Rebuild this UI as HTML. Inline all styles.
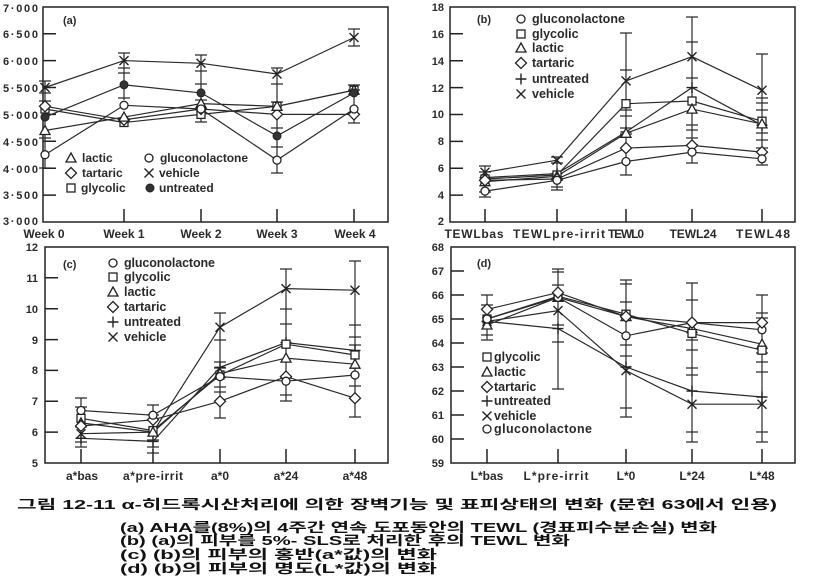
<!DOCTYPE html>
<html><head><meta charset="utf-8"><style>
html,body{margin:0;padding:0;background:#fff;}
svg{display:block;}
.ax{font-family:"Liberation Sans",Arial,sans-serif;font-weight:bold;fill:#2a2a2a;}
.cap{font-family:"Liberation Sans","Noto Sans CJK KR","NanumGothic",sans-serif;font-weight:bold;fill:#111;font-size:13px;}
</style></head><body>
<svg width="814" height="584" viewBox="0 0 814 584" xmlns="http://www.w3.org/2000/svg">
<defs>
<g id="ci"><circle r="4" fill="#fff" stroke="#222" stroke-width="1.3"/></g>
<g id="sq"><rect x="-4" y="-4" width="8" height="8" fill="#fff" stroke="#222" stroke-width="1.3"/></g>
<g id="tr"><path d="M0,-5 L5,4 L-5,4Z" fill="#fff" stroke="#222" stroke-width="1.3"/></g>
<g id="di"><path d="M0,-5.5 L5.5,0 L0,5.5 L-5.5,0Z" fill="#fff" stroke="#222" stroke-width="1.3"/></g>
<g id="pl"><path d="M-5.5,0H5.5M0,-5.5V5.5" fill="none" stroke="#222" stroke-width="1.4"/></g>
<g id="cr"><path d="M-4.5,-4.5L4.5,4.5M-4.5,4.5L4.5,-4.5" fill="none" stroke="#222" stroke-width="1.4"/></g>
<g id="dt"><circle r="4" fill="#333" stroke="#222" stroke-width="1"/></g>
</defs>
<rect width="814" height="584" fill="#fff"/>

<!-- ============ PANEL A ============ -->
<g fill="none" stroke="#222" stroke-width="1.5">
<rect x="43" y="7" width="345" height="215"/>
<path d="M43,33.7H56M43,60.6H56M43,87.5H56M43,114.4H56M43,141.3H56M43,168.2H56M43,195.1H56M124,209V222M201,209V222M277,209V222M354,209V222"/>
</g>
<g fill="none" stroke="#2a2a2a" stroke-width="1.2">
<polyline points="45,87.5 124,60.6 201,63.3 277,74 354,37.5"/>
<polyline points="45,117.1 124,84.8 201,92.9 277,135.9 354,92.9"/>
<polyline points="45,154.7 124,105.3 201,109 277,160.1 354,109"/>
<polyline points="45,130.5 124,117.1 201,103.6 277,106.3 354,90.2"/>
<polyline points="45,106.3 124,119.8 201,109 277,114.4 354,114.4"/>
<polyline points="45,109 124,122.5 201,114.4 277,106.3 354,90.2"/>
<path d="M45,81V168M39,81H51M39,93H51M39,101H51M39,138H51M39,168H51
M124,53V100M118,53H130M118,68H130M118,73H130M118,98H130
M201,55V122M195,55H207M195,71H207M195,84H207M195,100H207M195,122H207
M277,68V173M271,68H283M271,84H283M271,102H283M271,128H283M271,147H283M271,173H283
M354,29V46M354,85V123M348,29H360M348,46H360M348,85H360M348,90H360M348,123H360"/>
</g>
<use href="#cr" x="45" y="87.5"/><use href="#cr" x="124" y="60.6"/><use href="#cr" x="201" y="63.3"/><use href="#cr" x="277" y="74"/><use href="#cr" x="354" y="37.5"/>
<use href="#sq" x="45" y="109"/><use href="#sq" x="124" y="122.5"/><use href="#sq" x="201" y="114.4"/><use href="#sq" x="277" y="106.3"/><use href="#sq" x="354" y="90.2"/>
<use href="#di" x="45" y="106.3"/><use href="#di" x="124" y="119.8"/><use href="#di" x="201" y="109"/><use href="#di" x="277" y="114.4"/><use href="#di" x="354" y="114.4"/>
<use href="#tr" x="45" y="130.5"/><use href="#tr" x="124" y="117.1"/><use href="#tr" x="201" y="103.6"/><use href="#tr" x="277" y="106.3"/><use href="#tr" x="354" y="90.2"/>
<use href="#ci" x="45" y="154.7"/><use href="#ci" x="124" y="105.3"/><use href="#ci" x="201" y="109"/><use href="#ci" x="277" y="160.1"/><use href="#ci" x="354" y="109"/>
<use href="#dt" x="45" y="117.1"/><use href="#dt" x="124" y="84.8"/><use href="#dt" x="201" y="92.9"/><use href="#dt" x="277" y="135.9"/><use href="#dt" x="354" y="92.9"/>
<g class="ax" font-size="11" text-anchor="end">
<text x="38" y="12" textLength="35">7·000</text>
<text x="38" y="38" textLength="35">6·500</text>
<text x="38" y="65" textLength="35">6·000</text>
<text x="38" y="92" textLength="35">5·500</text>
<text x="38" y="119" textLength="35">5·000</text>
<text x="38" y="146" textLength="35">4·500</text>
<text x="38" y="173" textLength="35">4·000</text>
<text x="38" y="199" textLength="35">3·500</text>
<text x="38" y="225" textLength="35">3·000</text>
</g>
<g class="ax" font-size="12" text-anchor="middle">
<text x="44" y="238">Week 0</text>
<text x="124" y="238">Week 1</text>
<text x="201" y="238">Week 2</text>
<text x="277" y="238">Week 3</text>
<text x="355" y="238">Week 4</text>
</g>
<text class="ax" font-size="11" x="63" y="24">(a)</text>
<use href="#tr" x="71" y="158"/><use href="#di" x="71" y="173"/><use href="#sq" x="71" y="188"/>
<use href="#ci" x="149" y="158"/><use href="#cr" x="149" y="173"/><use href="#dt" x="150" y="188"/>
<g class="ax" font-size="12">
<text x="82" y="162">lactic</text>
<text x="82" y="177">tartaric</text>
<text x="81" y="192">glycolic</text>
<text x="160" y="162" textLength="88">gluconolactone</text>
<text x="159" y="177">vehicle</text>
<text x="159" y="192">untreated</text>
</g>

<!-- ============ PANEL B ============ -->
<g fill="none" stroke="#222" stroke-width="1.5">
<rect x="450" y="7" width="345" height="215"/>
<path d="M450,33.8H463M450,60.7H463M450,87.6H463M450,114.5H463M450,141.4H463M450,168.2H463M450,195.1H463M485,209V222M557,209V222M626,209V222M692,209V222M762,209V222"/>
</g>
<g fill="none" stroke="#2a2a2a" stroke-width="1.2">
<polyline points="485,172.3 557,160.2 626,80.9 692,56.7 762,90.3"/>
<polyline points="485,177.6 557,173.6 626,132 692,87.6 762,125.2"/>
<polyline points="485,179 557,175 626,103.7 692,101 762,121.2"/>
<polyline points="485,181.7 557,176.3 626,133.3 692,109.1 762,123.9"/>
<polyline points="485,180.3 557,179 626,148.1 692,145.4 762,152.1"/>
<polyline points="485,191.1 557,180.3 626,161.5 692,152.1 762,158.8"/>
<path d="M485,166V197M479,166H491M479,172H491M479,192H491M479,197H491
M557,157V190M551,157H563M551,163H563M551,187H563M551,190H563
M626,33V175M620,33H632M620,70H632M620,110H632M620,116H632M620,128H632M620,134H632M620,175H632
M692,17V163M686,17H698M686,42H698M686,78H698M686,125H698M686,130H698M686,138H698M686,145H698M686,163H698
M762,54V165M756,54H768M756,98H768M756,103H768M756,110H768M756,133H768M756,140H768M756,148H768M756,165H768"/>
</g>
<use href="#pl" x="485" y="177.6"/><use href="#pl" x="557" y="173.6"/><use href="#pl" x="626" y="132"/><use href="#pl" x="692" y="87.6"/><use href="#pl" x="762" y="125.2"/>
<use href="#cr" x="485" y="172.3"/><use href="#cr" x="557" y="160.2"/><use href="#cr" x="626" y="80.9"/><use href="#cr" x="692" y="56.7"/><use href="#cr" x="762" y="90.3"/>
<use href="#sq" x="485" y="179"/><use href="#sq" x="557" y="175"/><use href="#sq" x="626" y="103.7"/><use href="#sq" x="692" y="101"/><use href="#sq" x="762" y="121.2"/>
<use href="#tr" x="485" y="181.7"/><use href="#tr" x="557" y="176.3"/><use href="#tr" x="626" y="133.3"/><use href="#tr" x="692" y="109.1"/><use href="#tr" x="762" y="123.9"/>
<use href="#di" x="485" y="180.3"/><use href="#di" x="557" y="179"/><use href="#di" x="626" y="148.1"/><use href="#di" x="692" y="145.4"/><use href="#di" x="762" y="152.1"/>
<use href="#ci" x="485" y="191.1"/><use href="#ci" x="557" y="180.3"/><use href="#ci" x="626" y="161.5"/><use href="#ci" x="692" y="152.1"/><use href="#ci" x="762" y="158.8"/>
<g class="ax" font-size="11" text-anchor="end">
<text x="444" y="11">18</text>
<text x="444" y="38">16</text>
<text x="444" y="65">14</text>
<text x="444" y="92">12</text>
<text x="444" y="118">10</text>
<text x="444" y="145">8</text>
<text x="444" y="172">6</text>
<text x="444" y="199">4</text>
<text x="444" y="225">2</text>
</g>
<g class="ax" font-size="12" text-anchor="middle">
<text x="474" y="238" textLength="59">TEWLbas</text>
<text x="559" y="238" textLength="92">TEWLpre-irrit</text>
<text x="626" y="238" textLength="36">TEWL0</text>
<text x="693" y="238" textLength="47">TEWL24</text>
<text x="763" y="238" textLength="54">TEWL48</text>
</g>
<text class="ax" font-size="11" x="477" y="23">(b)</text>
<use href="#ci" x="521" y="19"/><use href="#sq" x="521" y="34"/><use href="#tr" x="521" y="48"/><use href="#di" x="521" y="63"/><use href="#pl" x="521" y="79"/><use href="#cr" x="521" y="94"/>
<g class="ax" font-size="12.5">
<text x="532" y="23" textLength="93">gluconolactone</text>
<text x="532" y="38">glycolic</text>
<text x="532" y="52">lactic</text>
<text x="532" y="67">tartaric</text>
<text x="532" y="83">untreated</text>
<text x="532" y="98">vehicle</text>
</g>

<!-- ============ PANEL C ============ -->
<g fill="none" stroke="#222" stroke-width="1.5">
<rect x="45" y="247" width="343" height="216"/>
<path d="M45,277.8H58M45,308.7H58M45,339.6H58M45,370.4H58M45,401.3H58M45,432.1H58M81,449V463M153,449V463M220,449V463M286,449V463M355,449V463"/>
</g>
<g fill="none" stroke="#2a2a2a" stroke-width="1.2">
<polyline points="81,433.7 153,432.1 220,327.2 286,288.6 355,290.2"/>
<polyline points="81,410.5 153,415.2 220,376.6 286,381.2 355,375"/>
<polyline points="81,418.3 153,430.6 220,375 286,344.2 355,355"/>
<polyline points="81,422.9 153,432.1 220,373.5 286,358.1 355,364.2"/>
<polyline points="81,426 153,419.8 220,401.3 286,376.6 355,398.2"/>
<polyline points="81,438.3 153,441.4 220,367.3 286,342.6 355,350.4"/>
<path d="M81,398V447M75,398H87M75,407H87M75,442H87M75,447H87
M153,405V453M147,405H159M147,415H159M147,440H159M147,447H159M147,453H159
M220,313V418M214,313H226M214,340H226M214,362H226M214,368H226M214,387H226M214,392H226M214,418H226
M286,269V401M280,269H292M280,309H292M280,324H292M280,377H292M280,395H292M280,401H292
M355,261V417M349,261H361M349,325H361M349,337H361M349,345H361M349,386H361M349,417H361"/>
</g>
<use href="#pl" x="81" y="438.3"/><use href="#pl" x="153" y="441.4"/><use href="#pl" x="220" y="367.3"/><use href="#pl" x="286" y="342.6"/><use href="#pl" x="355" y="350.4"/>
<use href="#cr" x="81" y="433.7"/><use href="#cr" x="153" y="432.1"/><use href="#cr" x="220" y="327.2"/><use href="#cr" x="286" y="288.6"/><use href="#cr" x="355" y="290.2"/>
<use href="#sq" x="81" y="418.3"/><use href="#sq" x="153" y="430.6"/><use href="#sq" x="220" y="375"/><use href="#sq" x="286" y="344.2"/><use href="#sq" x="355" y="355"/>
<use href="#tr" x="81" y="422.9"/><use href="#tr" x="153" y="432.1"/><use href="#tr" x="220" y="373.5"/><use href="#tr" x="286" y="358.1"/><use href="#tr" x="355" y="364.2"/>
<use href="#di" x="81" y="426"/><use href="#di" x="153" y="419.8"/><use href="#di" x="220" y="401.3"/><use href="#di" x="286" y="376.6"/><use href="#di" x="355" y="398.2"/>
<use href="#ci" x="81" y="410.5"/><use href="#ci" x="153" y="415.2"/><use href="#ci" x="220" y="376.6"/><use href="#ci" x="286" y="381.2"/><use href="#ci" x="355" y="375"/>
<g class="ax" font-size="11" text-anchor="end">
<text x="38" y="251">12</text>
<text x="38" y="282">11</text>
<text x="38" y="313">10</text>
<text x="38" y="344">9</text>
<text x="38" y="374">8</text>
<text x="38" y="405">7</text>
<text x="38" y="436">6</text>
<text x="38" y="467">5</text>
</g>
<g class="ax" font-size="12" text-anchor="middle">
<text x="82" y="480">a*bas</text>
<text x="153" y="480" textLength="60">a*pre-irrit</text>
<text x="220" y="480">a*0</text>
<text x="286" y="480">a*24</text>
<text x="355" y="480">a*48</text>
</g>
<text class="ax" font-size="11" x="63" y="268">(c)</text>
<use href="#ci" x="113" y="263"/><use href="#sq" x="113" y="277"/><use href="#tr" x="113" y="292"/><use href="#di" x="113" y="307"/><use href="#pl" x="113" y="322"/><use href="#cr" x="113" y="337"/>
<g class="ax" font-size="12.5">
<text x="124" y="267" textLength="91">gluconolactone</text>
<text x="124" y="281">glycolic</text>
<text x="124" y="296">lactic</text>
<text x="124" y="311">tartaric</text>
<text x="124" y="326">untreated</text>
<text x="124" y="341">vehicle</text>
</g>

<!-- ============ PANEL D ============ -->
<g fill="none" stroke="#222" stroke-width="1.5">
<rect x="451" y="247" width="344" height="216"/>
<path d="M451,271H464M451,295H464M451,319H464M451,343H464M451,367H464M451,391H464M451,415H464M451,439H464M487,449V463M558,449V463M626,449V463M692,449V463M762,449V463"/>
</g>
<g fill="none" stroke="#2a2a2a" stroke-width="1.2">
<polyline points="487,309.4 558,292.6 626,316.6 692,322.6 762,322.6"/>
<polyline points="487,319 558,297.4 626,335.8 692,322.6 762,329.8"/>
<polyline points="487,319 558,296.2 626,314.2 692,333.4 762,350.2"/>
<polyline points="487,325 558,297.4 626,316.6 692,328.6 762,344.2"/>
<polyline points="487,321.4 558,328.6 626,367 692,391 762,397"/>
<polyline points="487,321.4 558,310.6 626,370.6 692,404.2 762,404.2"/>
<path d="M487,295V340M481,295H493M481,305H493M481,335H493M481,340H493
M558,269V389M552,269H564M552,272H564M552,285H564M552,325H564M552,342H564M552,389H564
M626,280V417M620,280H632M620,284H632M620,302H632M620,316H632M620,345H632M620,356H632M620,408H632M620,417H632
M692,283V442M686,283H698M686,300H698M686,340H698M686,350H698M686,368H698M686,375H698M686,432H698M686,442H698
M762,295V442M756,295H768M756,313H768M756,318H768M756,353H768M756,362H768M756,372H768M756,432H768M756,442H768"/>
</g>
<use href="#pl" x="487" y="321.4"/><use href="#pl" x="558" y="328.6"/><use href="#pl" x="626" y="367"/><use href="#pl" x="692" y="391"/><use href="#pl" x="762" y="397"/>
<use href="#cr" x="487" y="321.4"/><use href="#cr" x="558" y="310.6"/><use href="#cr" x="626" y="370.6"/><use href="#cr" x="692" y="404.2"/><use href="#cr" x="762" y="404.2"/>
<use href="#tr" x="487" y="325"/><use href="#tr" x="558" y="297.4"/><use href="#tr" x="626" y="316.6"/><use href="#tr" x="692" y="328.6"/><use href="#tr" x="762" y="344.2"/>
<use href="#sq" x="487" y="319"/><use href="#sq" x="558" y="296.2"/><use href="#sq" x="626" y="314.2"/><use href="#sq" x="692" y="333.4"/><use href="#sq" x="762" y="350.2"/>
<use href="#ci" x="487" y="319"/><use href="#ci" x="558" y="297.4"/><use href="#ci" x="626" y="335.8"/><use href="#ci" x="692" y="322.6"/><use href="#ci" x="762" y="329.8"/>
<use href="#di" x="487" y="309.4"/><use href="#di" x="558" y="292.6"/><use href="#di" x="626" y="316.6"/><use href="#di" x="692" y="322.6"/><use href="#di" x="762" y="322.6"/>
<g class="ax" font-size="11" text-anchor="end">
<text x="444" y="251">68</text>
<text x="444" y="275">67</text>
<text x="444" y="299">66</text>
<text x="444" y="323">65</text>
<text x="444" y="347">64</text>
<text x="444" y="371">63</text>
<text x="444" y="395">62</text>
<text x="444" y="419">61</text>
<text x="444" y="443">60</text>
<text x="444" y="467">59</text>
</g>
<g class="ax" font-size="12" text-anchor="middle">
<text x="487" y="480">L*bas</text>
<text x="556" y="480" textLength="65">L*pre-irrit</text>
<text x="626" y="480">L*0</text>
<text x="692" y="480">L*24</text>
<text x="762" y="480">L*48</text>
</g>
<text class="ax" font-size="11" x="477" y="267">(d)</text>
<use href="#sq" x="487" y="357"/><use href="#tr" x="487" y="372"/><use href="#di" x="487" y="387"/><use href="#pl" x="487" y="401"/><use href="#cr" x="487" y="416"/><use href="#ci" x="487" y="429"/>
<g class="ax" font-size="12.5">
<text x="494" y="361">glycolic</text>
<text x="494" y="376">lactic</text>
<text x="494" y="391">tartaric</text>
<text x="494" y="405">untreated</text>
<text x="494" y="420">vehicle</text>
<text x="494" y="433" textLength="98">gluconolactone</text>
</g>

<!-- ============ CAPTION ============ -->
<text class="cap" x="17" y="509" textLength="760" lengthAdjust="spacingAndGlyphs">그림 12-11 α-히드록시산처리에 의한 장벽기능 및 표피상태의 변화 (문헌 63에서 인용)</text>
<text class="cap" x="120" y="532" textLength="597" lengthAdjust="spacingAndGlyphs">(a) AHA를(8%)의 4주간 연속 도포동안의 TEWL (경표피수분손실) 변화</text>
<text class="cap" x="120" y="545" textLength="450" lengthAdjust="spacingAndGlyphs">(b) (a)의 피부를 5%- SLS로 처리한 후의 TEWL 변화</text>
<text class="cap" x="120" y="559" textLength="317" lengthAdjust="spacingAndGlyphs">(c) (b)의 피부의 홍반(a*값)의 변화</text>
<text class="cap" x="120" y="573" textLength="317" lengthAdjust="spacingAndGlyphs">(d) (b)의 피부의 명도(L*값)의 변화</text>
</svg>
</body></html>
